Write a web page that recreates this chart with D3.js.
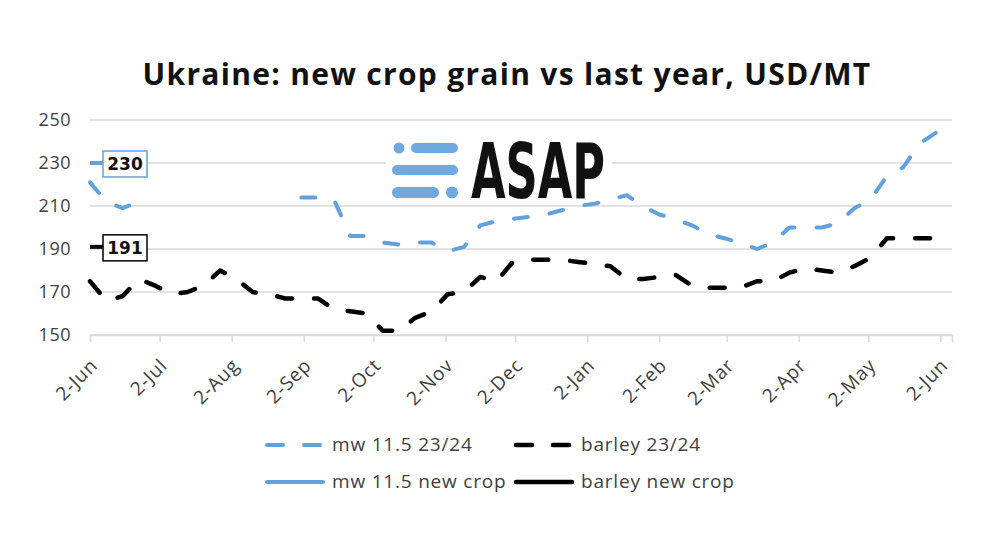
<!DOCTYPE html>
<html>
<head>
<meta charset="utf-8">
<script src="https://cdn.jsdelivr.net/npm/d3@7"></script>
<style>
  body { margin: 0; background: #fff; }
  svg { display: block; }
</style>
</head>
<body>
<div class="container"></div>
<script>
// weekly dates (Fridays)
var weeks = [
  '2023-06-02','2023-06-09','2023-06-16','2023-06-23','2023-06-30',
  '2023-07-07','2023-07-14','2023-07-21','2023-07-28',
  '2023-08-04','2023-08-11','2023-08-18','2023-08-25',
  '2023-09-01','2023-09-08','2023-09-15','2023-09-22','2023-09-29',
  '2023-10-06','2023-10-13','2023-10-20','2023-10-27',
  '2023-11-03','2023-11-10','2023-11-17','2023-11-24',
  '2023-12-01','2023-12-08','2023-12-15','2023-12-22','2023-12-29',
  '2024-01-05','2024-01-12','2024-01-19','2024-01-26',
  '2024-02-02','2024-02-09','2024-02-16','2024-02-23',
  '2024-03-01','2024-03-08','2024-03-15','2024-03-22','2024-03-29',
  '2024-04-05','2024-04-12','2024-04-19','2024-04-26',
  '2024-05-03','2024-05-10','2024-05-17','2024-05-24','2024-05-31',
  '2024-06-07'
];

var mw = [
  221, 212, 209, 212, null, null, null, null, null, null, null, null, null,
  214, 214, 213, 196, 196, 193, 192, 193, 193, 189, 191, 201, 203,
  204, 205, 206, 208, 210, 211, 213, 215, 210, 206, 204, 201, 197,
  195, 193, 190, 193, 200, 200, 200, 202, 209, 213, 224, 228, 239, 244,
  null
];

var barley = [
  175, 166, 168, 176, 173, 169, 170, 173, 180, 176, 170, 169, 167,
  167, 167, 162, 161, 160, 152, 152, 158, 161, 169, 170, 177, 175,
  184, 185, 185, 185, 184, 183, 182, 176, 176, 177, 178, 173, 172,
  172, 172, 175, 175, 179, 181, 180, 179, 182, 186, 195, 195, 195, 195,
  195
];

// new crop single points
var newCropDate = '2023-06-02';
var mwNew = 230;
var barleyNew = 191;

var tickDates = [
  '2023-06-02','2023-07-02','2023-08-02','2023-09-02','2023-10-02','2023-11-02',
  '2023-12-02','2024-01-02','2024-02-02','2024-03-02','2024-04-02','2024-05-02','2024-06-02'
];
var yTicks = [150, 170, 190, 210, 230, 250];

var legendItems = ['mw 11.5 23/24', 'barley 23/24', 'mw 11.5 new crop', 'barley new crop'];

var width = 991;
var height = 535;
var blue = '#62a1dd';
var grey = '#404040';
var font = "'Open Sans', sans-serif";

var parse = d3.timeParse('%Y-%m-%d');
var fmt = d3.timeFormat('%-d-%b');

var svg = d3.select('.container')
    .append('svg')
    .attr('width', width)
    .attr('height', height);

var x = d3.scaleTime()
    .domain([parse('2023-06-02'), parse('2024-06-07')])
    .range([90, 952]);

var y = d3.scaleLinear()
    .domain([150, 250])
    .range([335, 120]);

// title
svg.append('text')
    .attr('x', 507)
    .attr('y', 85)
    .attr('text-anchor', 'middle')
    .style('font-family', font)
    .style('font-weight', 'bold')
    .style('font-size', '30px')
    .style('letter-spacing', '1.3px')
    .style('fill', '#111')
    .text('Ukraine: new crop grain vs last year, USD/MT');

// gridlines
svg.selectAll('.grid')
    .data(yTicks)
    .enter()
    .append('line')
    .attr('x1', x.range()[0])
    .attr('x2', x.range()[1])
    .attr('y1', d => y(d))
    .attr('y2', d => y(d))
    .style('stroke', '#d9d9d9')
    .style('stroke-width', 1.5);

// y labels
svg.selectAll('.ylab')
    .data(yTicks)
    .enter()
    .append('text')
    .attr('x', 71)
    .attr('y', d => y(d) + 6)
    .attr('text-anchor', 'end')
    .style('font-family', font)
    .style('font-size', '18px')
    .style('letter-spacing', '0.5px')
    .style('fill', grey)
    .text(d => d);

// x axis
var xAxis = d3.axisBottom(x)
    .tickValues(tickDates.map(parse))
    .tickSize(7)
    .tickFormat('');

var gx = svg.append('g')
    .attr('transform', 'translate(0,' + y(150) + ')')
    .call(xAxis);
gx.select('.domain').style('stroke', '#d9d9d9').style('stroke-width', 1.5);
gx.selectAll('.tick line').style('stroke', '#d9d9d9').style('stroke-width', 1.5);

svg.selectAll('.xlab')
    .data(tickDates)
    .enter()
    .append('text')
    .attr('transform', d => 'translate(' + (x(parse(d)) + 4) + ',362) rotate(-45)')
    .attr('text-anchor', 'end')
    .attr('dy', '0.35em')
    .style('font-family', font)
    .style('font-size', '19px')
    .style('letter-spacing', '0.8px')
    .style('fill', grey)
    .text(d => fmt(parse(d)));

// logo
var logo = svg.append('g');
logo.append('rect')
    .attr('x', 386).attr('y', 138).attr('width', 226).attr('height', 64)
    .style('fill', '#fff');
logo.append('circle').attr('cx', 399).attr('cy', 148).attr('r', 5.5).style('fill', '#6fa9e0');
logo.append('rect').attr('x', 411).attr('y', 143).attr('width', 47).attr('height', 10).attr('rx', 5).style('fill', '#6fa9e0');
logo.append('rect').attr('x', 392).attr('y', 165).attr('width', 66).attr('height', 10).attr('rx', 5).style('fill', '#6fa9e0');
logo.append('rect').attr('x', 392).attr('y', 187).attr('width', 47).attr('height', 11).attr('rx', 5.5).style('fill', '#6fa9e0');
logo.append('circle').attr('cx', 452).attr('cy', 192.5).attr('r', 6).style('fill', '#6fa9e0');
logo.append('text')
    .attr('x', 471)
    .attr('y', 198)
    .attr('textLength', 134)
    .attr('lengthAdjust', 'spacingAndGlyphs')
    .style('font-family', "'Liberation Sans Narrow', 'DejaVu Sans Condensed', sans-serif")
    .style('font-weight', 'bold')
    .style('font-size', '76px')
    .style('fill', '#111')
    .text('ASAP');

// lines
var rows = weeks.map(function(d, i) {
    return { date: parse(d), mw: mw[i], barley: barley[i] };
});

function lineFor(key) {
    return d3.line()
        .defined(d => d[key] != null)
        .x(d => x(d.date))
        .y(d => y(d[key]));
}

svg.append('path')
    .datum(rows)
    .attr('d', lineFor('barley'))
    .style('fill', 'none')
    .style('stroke', '#000')
    .style('stroke-width', 4.5)
    .style('stroke-dasharray', '15,22')
    .style('stroke-linecap', 'round')
    .style('stroke-linejoin', 'round');

svg.append('path')
    .datum(rows)
    .attr('d', lineFor('mw'))
    .style('fill', 'none')
    .style('stroke', blue)
    .style('stroke-width', 4)
    .style('stroke-dasharray', '14,22')
    .style('stroke-linecap', 'round')
    .style('stroke-linejoin', 'round');

// new crop points with labels
var newCrop = [
    { v: mwNew, color: blue },
    { v: barleyNew, color: '#000' }
];

var nx = x(parse(newCropDate));

svg.selectAll('.lead')
    .data(newCrop)
    .enter()
    .append('line')
    .attr('x1', nx)
    .attr('x2', nx + 13)
    .attr('y1', d => y(d.v))
    .attr('y2', d => y(d.v))
    .style('stroke', d => d.color)
    .style('stroke-width', 4);

svg.selectAll('.lbox')
    .data(newCrop)
    .enter()
    .append('rect')
    .attr('x', nx + 13)
    .attr('y', d => y(d.v) - 12)
    .attr('width', 44)
    .attr('height', 26)
    .style('fill', '#fff')
    .style('stroke', d => d.color)
    .style('stroke-width', 1.5);

svg.selectAll('.ltext')
    .data(newCrop)
    .enter()
    .append('text')
    .attr('x', nx + 35)
    .attr('y', d => y(d.v) + 7)
    .attr('text-anchor', 'middle')
    .style('font-family', "'DejaVu Sans', sans-serif")
    .style('font-weight', 'bold')
    .style('font-size', '17px')
    .style('fill', '#111')
    .text(d => d.v);

// legend
var legend = [
    { label: legendItems[0], color: blue, dash: true, x: 265, y: 445, w: 4 },
    { label: legendItems[1], color: '#000', dash: true, x: 514, y: 445, w: 4.5 },
    { label: legendItems[2], color: blue, dash: false, x: 265, y: 482, w: 4 },
    { label: legendItems[3], color: '#000', dash: false, x: 514, y: 482, w: 4.5 }
];

var lg = svg.selectAll('.legend')
    .data(legend)
    .enter()
    .append('g');

lg.append('line')
    .attr('x1', d => d.x + 2)
    .attr('x2', d => d.x + 58)
    .attr('y1', d => d.y)
    .attr('y2', d => d.y)
    .style('stroke', d => d.color)
    .style('stroke-width', d => d.w)
    .style('stroke-dasharray', d => d.dash ? '16,21' : null)
    .style('stroke-linecap', 'round');

lg.append('text')
    .attr('x', d => d.x + 67)
    .attr('y', d => d.y + 6)
    .style('font-family', font)
    .style('font-size', '19px')
    .style('letter-spacing', '0.8px')
    .style('fill', grey)
    .text(d => d.label);
</script>
</body>
</html>
